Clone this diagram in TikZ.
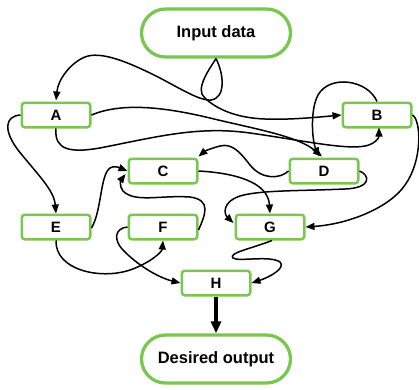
\documentclass[tikz,border=0pt]{standalone}
\usepackage{fontspec}
\setmainfont{Liberation Sans}
\usetikzlibrary{arrows.meta}
\definecolor{lgreen}{HTML}{7AC74F}
\tikzset{
  box/.style={draw=lgreen, line width=2.5pt, rounded corners=3pt, fill=white,
    minimum width=68.5pt, minimum height=24.5pt, inner sep=0pt,
    font=\fontsize{15}{18}\selectfont\bfseries},
  stad/.style={draw=lgreen, line width=3.3pt, rounded corners=24pt, fill=white,
    minimum width=149pt, minimum height=48pt, inner sep=0pt,
    font=\fontsize{16.5}{20}\selectfont\bfseries},
  conn/.style={line width=1.5pt, -{Triangle[length=9pt,width=7pt]}},
  thickconn/.style={line width=3.5pt, -{Triangle[length=12pt,width=10pt]}}
}
\begin{document}
\begin{tikzpicture}[x=1pt,y=-1pt]
\useasboundingbox (0,0) rectangle (419,389);
\node[stad] (inp) at (216,33) {Input data};
\node[box] (A) at (56,115) {A};
\node[box] (B) at (377,115) {B};
\node[box] (C) at (163,171) {C};
\node[box] (D) at (324,171) {D};
\node[box] (E) at (56,227) {E};
\node[box] (F) at (163,227) {F};
\node[box] (G) at (270,227) {G};
\node[box] (H) at (216,283) {H};
\node[stad] (outp) at (216,359) {Desired output};

% Input -> A
\draw[conn] (inp.south) .. controls (224,74) and (226,98) .. (211,100)
  .. controls (198,101) and (175,85) .. (150,73)
  .. controls (125,61) and (100,51) .. (85,57)
  .. controls (70,63) and (58,80) .. ([yshift=1pt]A.north);
% Input -> B
\draw[conn] (inp.south) .. controls (210,68) and (194,90) .. (205,98)
  .. controls (215,108) and (235,118) .. (265,119)
  .. controls (290,120) and (320,117) .. (B.west);
% A -> D
\draw[conn] (A.east) .. controls (120,103) and (160,106) .. (210,118)
  .. controls (255,129) and (298,136) .. ([xshift=-2pt,yshift=1pt]D.north);
% A -> B
\draw[conn] (A.south) .. controls (54,150) and (70,154) .. (105,147)
  .. controls (160,136) and (200,126) .. (250,133)
  .. controls (300,140) and (345,150) .. (365,146)
  .. controls (375,144) and (379,138) .. ([xshift=2pt,yshift=1pt]B.south);
% B -> D
\draw[conn] (B.north) .. controls (368,80) and (330,74) .. (318,95)
  .. controls (310,110) and (312,140) .. ([xshift=-5pt,yshift=1pt]D.north);
% B -> G
\draw[conn] (B.east) .. controls (421,120) and (423,160) .. (405,185)
  .. controls (390,207) and (350,224) .. (G.east);
% D -> C
\draw[conn] (D.west) .. controls (280,179) and (262,180) .. (250,165)
  .. controls (240,152) and (232,143) .. (220,146)
  .. controls (212,148) and (205,151) .. ([yshift=1pt]C.north east);
% C -> G
\draw[conn] (C.east) .. controls (235,173) and (268,182) .. (G.north);
% D -> G
\draw[conn] (D.east) .. controls (370,175) and (372,188) .. (345,189)
  .. controls (300,191) and (260,190) .. (240,196)
  .. controls (222,202) and (224,214) .. ([xshift=-1pt,yshift=4pt]G.west);
% E -> C
\draw[conn] ([yshift=-1pt]E.east) .. controls (102,210) and (100,175) .. (110,168)
  .. controls (114,165) and (120,168) .. (C.west);
% F -> C
\draw[conn] ([yshift=-3pt]F.east) .. controls (205,215) and (212,200) .. (190,197)
  .. controls (160,195) and (135,203) .. (123,191)
  .. controls (119,186) and (121,180) .. ([xshift=-2pt,yshift=-3pt]C.west);
% A -> E
\draw[conn] (A.west) .. controls (5,116) and (3,130) .. (18,150)
  .. controls (38,175) and (54,190) .. (E.north);
% E -> F
\draw[conn] (E.south) .. controls (55,270) and (100,280) .. (130,270)
  .. controls (150,263) and (162,252) .. (F.south);
% F -> H
\draw[conn] (F.west) .. controls (115,228) and (112,240) .. (125,252)
  .. controls (140,267) and (160,278) .. (H.west);
% G -> H
\draw[conn] ([xshift=2pt]G.south) .. controls (250,249) and (228,253) .. (233,258)
  .. controls (238,262) and (270,255) .. (280,262)
  .. controls (286,268) and (270,277) .. (H.east);
% H -> Desired output
\draw[thickconn] (H.south) -- (outp.north);
\end{tikzpicture}
\end{document}
